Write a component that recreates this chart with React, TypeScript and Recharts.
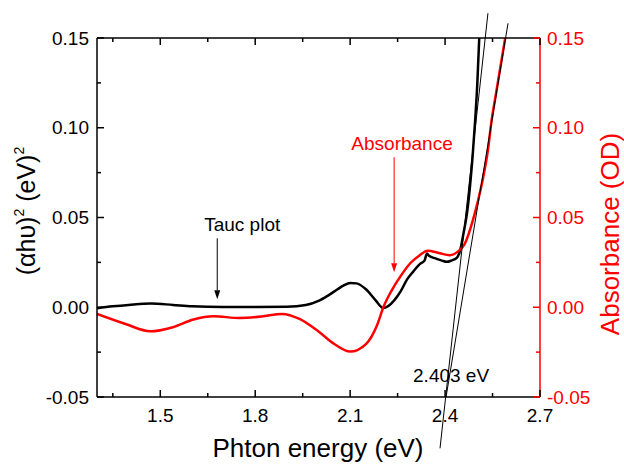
import { ComposedChart, Line, XAxis, YAxis, ReferenceLine, ReferenceDot } from 'recharts'

const FONT = '"Liberation Sans", Arial, Helvetica, sans-serif'
const RED = '#ff0000'
const BLACK = '#000000'

// Tauc plot: (αhυ)^2 against photon energy
const taucEnergy = [
  1.3, 1.35, 1.4, 1.47, 1.54, 1.6, 1.7, 1.8, 1.9, 1.96, 2.0, 2.03, 2.06,
  2.08, 2.1, 2.12, 2.15, 2.18, 2.205, 2.24, 2.26, 2.28, 2.3, 2.32, 2.335, 2.343, 2.35, 2.37, 2.39,
  2.405, 2.42, 2.437, 2.448, 2.458, 2.469, 2.478, 2.487, 2.495, 2.502, 2.508,
]
const taucValue = [
  -0.0005, 0.0005, 0.0013, 0.0021, 0.0013, 0.0005, 0.0002, 0.0002, 0.0003, 0.0012, 0.0035, 0.0065,
  0.01, 0.0122, 0.0135, 0.0133, 0.01, 0.004, -0.0004, 0.004, 0.009, 0.0155, 0.02, 0.024, 0.026,
  0.03, 0.0285, 0.0272, 0.026, 0.0253, 0.026, 0.0275, 0.032, 0.041, 0.052, 0.066, 0.084, 0.104,
  0.125, 0.15,
]

// absorbance (OD), right axis
const absEnergy = [
  1.3, 1.39, 1.468, 1.54, 1.605, 1.668, 1.75, 1.82, 1.885, 1.94, 2.0, 2.05, 2.1, 2.15, 2.185,
  2.205, 2.23, 2.26, 2.29, 2.32, 2.345, 2.38, 2.415, 2.44, 2.463, 2.488, 2.505, 2.52, 2.535, 2.547,
  2.56, 2.575, 2.59,
]
const absValue = [
  -0.0037, -0.0093, -0.0134, -0.0111, -0.0068, -0.005, -0.006, -0.0052, -0.0037, -0.0065, -0.0135,
  -0.0205, -0.0247, -0.0205, -0.01, 0.0, 0.009, 0.0175, 0.0245, 0.029, 0.0315, 0.0302, 0.029,
  0.031, 0.0356, 0.0485, 0.06, 0.072, 0.087, 0.104, 0.118, 0.134, 0.15,
]

const xTicks = [1.35, 1.5, 1.65, 1.8, 1.95, 2.1, 2.25, 2.4, 2.55, 2.7]
const xMajor = [1.5, 1.8, 2.1, 2.4, 2.7]
const yTicks = [-0.05, -0.025, 0, 0.025, 0.05, 0.075, 0.1, 0.125, 0.15]
const yMajor = [-0.05, 0, 0.05, 0.1, 0.15]

// straight-line fits extrapolated down to the energy axis
const fitTauc = [
  { x: 2.384, y: -0.0786 },
  { x: 2.5355, y: 0.1638 },
]
const fitAbs = [
  { x: 2.403, y: -0.0501 },
  { x: 2.599, y: 0.1582 },
]

// annotation arrows and texts
const taucArrow = [
  { x: 1.68, y: 0.0384 },
  { x: 1.68, y: 0.0045 },
]
const absArrow = [
  { x: 2.239, y: 0.0836 },
  { x: 2.239, y: 0.0195 },
]
const notes = [
  { x: 1.759, y: 0.0462, text: 'Tauc plot', color: BLACK },
  { x: 2.264, y: 0.0914, text: 'Absorbance', color: RED },
  { x: 2.419, y: -0.0379, text: '2.403 eV', color: BLACK },
]

const taucData = taucEnergy.map((x, i) => ({ x, y: taucValue[i] }))
const absData = absEnergy.map((x, i) => ({ x, y: absValue[i] }))

const isMajor = (v: number, list: number[]) => list.some((m) => Math.abs(m - v) < 1e-6)

const bottomTick = (p: any) => {
  const major = isMajor(p.payload.value, xMajor)
  return (
    <g>
      <line x1={p.x} y1={p.y} x2={p.x} y2={p.y - (major ? 7 : 4)} stroke={BLACK} strokeWidth={1.5} />
      {major && (
        <text x={p.x} y={p.y + 25} textAnchor="middle" fontSize={19} fill={BLACK}>
          {p.payload.value.toFixed(1)}
        </text>
      )}
    </g>
  )
}

const topTick = (p: any) => {
  const major = isMajor(p.payload.value, xMajor)
  return <line x1={p.x} y1={p.y} x2={p.x} y2={p.y + (major ? 7 : 4)} stroke={BLACK} strokeWidth={1.5} />
}

const leftTick = (p: any) => {
  const major = isMajor(p.payload.value, yMajor)
  return (
    <g>
      <line x1={p.x} y1={p.y} x2={p.x + (major ? 7 : 4)} y2={p.y} stroke={BLACK} strokeWidth={1.5} />
      {major && (
        <text x={p.x - 8} y={p.y + 6.5} textAnchor="end" fontSize={19} fill={BLACK}>
          {p.payload.value.toFixed(2)}
        </text>
      )}
    </g>
  )
}

const rightTick = (p: any) => {
  const major = isMajor(p.payload.value, yMajor)
  return (
    <g>
      <line x1={p.x} y1={p.y} x2={p.x - (major ? 7 : 4)} y2={p.y} stroke={RED} strokeWidth={1.5} />
      {major && (
        <text x={p.x + 7} y={p.y + 6.5} textAnchor="start" fontSize={19} fill={RED}>
          {p.payload.value.toFixed(2)}
        </text>
      )}
    </g>
  )
}

const arrowShape = (color: string) => (p: any) => {
  const { x1, y1, x2, y2 } = p
  const ang = Math.atan2(y2 - y1, x2 - x1)
  const len = 9
  const half = 3
  const bx = x2 - len * Math.cos(ang)
  const by = y2 - len * Math.sin(ang)
  const nx = -Math.sin(ang) * half
  const ny = Math.cos(ang) * half
  return (
    <g>
      <line x1={x1} y1={y1} x2={bx} y2={by} stroke={color} strokeWidth={1} />
      <polygon points={`${x2},${y2} ${bx + nx},${by + ny} ${bx - nx},${by - ny}`} fill={color} />
    </g>
  )
}

const xTitle = () => (
  <text x={318} y={457} textAnchor="middle" fontSize={26} fill={BLACK}>
    Phton energy (eV)
  </text>
)

const leftTitle = () => (
  <text x={35} y={211} transform="rotate(-90 35 211)" textAnchor="middle" fontSize={25} fill={BLACK}>
    (αhυ)
    <tspan dy={-11} fontSize={14}>2</tspan>
    <tspan dy={11}> (eV)</tspan>
    <tspan dy={-11} fontSize={14}>2</tspan>
  </text>
)

const rightTitle = () => (
  <text x={619} y={234} transform="rotate(-90 619 234)" textAnchor="middle" fontSize={26} fill={RED}>
    Absorbance (OD)
  </text>
)

export default function App() {
  return (
    <div style={{ position: 'absolute', left: 0, top: 0, fontFamily: FONT, background: '#fff' }}>
      <ComposedChart width={624} height={464} margin={{ top: 0, right: 0, bottom: 0, left: 0 }}>
        <XAxis
          xAxisId="bottom"
          orientation="bottom"
          type="number"
          dataKey="x"
          domain={[1.3, 2.7]}
          allowDataOverflow
          ticks={xTicks}
          interval={0}
          tickSize={0}
          tickMargin={0}
          tickLine={false}
          tick={bottomTick}
          axisLine={{ stroke: BLACK, strokeWidth: 1.5 }}
          height={67}
          label={xTitle}
        />
        <XAxis
          xAxisId="top"
          orientation="top"
          type="number"
          dataKey="x"
          domain={[1.3, 2.7]}
          allowDataOverflow
          ticks={xTicks}
          interval={0}
          tickSize={0}
          tickMargin={0}
          tickLine={false}
          tick={topTick}
          axisLine={{ stroke: BLACK, strokeWidth: 1.5 }}
          height={38}
        />
        <YAxis
          yAxisId="left"
          orientation="left"
          type="number"
          domain={[-0.05, 0.15]}
          allowDataOverflow
          ticks={yTicks}
          interval={0}
          tickSize={0}
          tickMargin={0}
          tickLine={false}
          tick={leftTick}
          axisLine={{ stroke: BLACK, strokeWidth: 1.5 }}
          width={97}
          label={leftTitle}
        />
        <YAxis
          yAxisId="right"
          orientation="right"
          type="number"
          domain={[-0.05, 0.15]}
          allowDataOverflow
          ticks={yTicks}
          interval={0}
          tickSize={0}
          tickMargin={0}
          tickLine={false}
          tick={rightTick}
          axisLine={{ stroke: RED, strokeWidth: 1.5 }}
          width={84}
          label={rightTitle}
        />
        <Line
          data={taucData}
          dataKey="y"
          xAxisId="bottom"
          yAxisId="left"
          type="monotone"
          stroke={BLACK}
          strokeWidth={2.5}
          dot={false}
          activeDot={false}
          isAnimationActive={false}
        />
        <Line
          data={absData}
          dataKey="y"
          xAxisId="bottom"
          yAxisId="right"
          type="monotone"
          stroke={RED}
          strokeWidth={2.5}
          dot={false}
          activeDot={false}
          isAnimationActive={false}
        />
        <ReferenceLine
          xAxisId="bottom"
          yAxisId="left"
          segment={fitTauc}
          ifOverflow="visible"
          stroke={BLACK}
          strokeWidth={1}
        />
        <ReferenceLine
          xAxisId="bottom"
          yAxisId="left"
          segment={fitAbs}
          ifOverflow="visible"
          stroke={BLACK}
          strokeWidth={1}
        />
        <ReferenceLine
          xAxisId="bottom"
          yAxisId="left"
          segment={taucArrow}
          ifOverflow="visible"
          shape={arrowShape(BLACK)}
        />
        <ReferenceLine
          xAxisId="bottom"
          yAxisId="left"
          segment={absArrow}
          ifOverflow="visible"
          shape={arrowShape(RED)}
        />
        {notes.map((n) => (
          <ReferenceDot
            key={n.text}
            xAxisId="bottom"
            yAxisId="left"
            x={n.x}
            y={n.y}
            r={0}
            fill="none"
            stroke="none"
            ifOverflow="visible"
            label={{ value: n.text, position: 'center', fill: n.color, fontSize: 19 }}
          />
        ))}
      </ComposedChart>
    </div>
  )
}
